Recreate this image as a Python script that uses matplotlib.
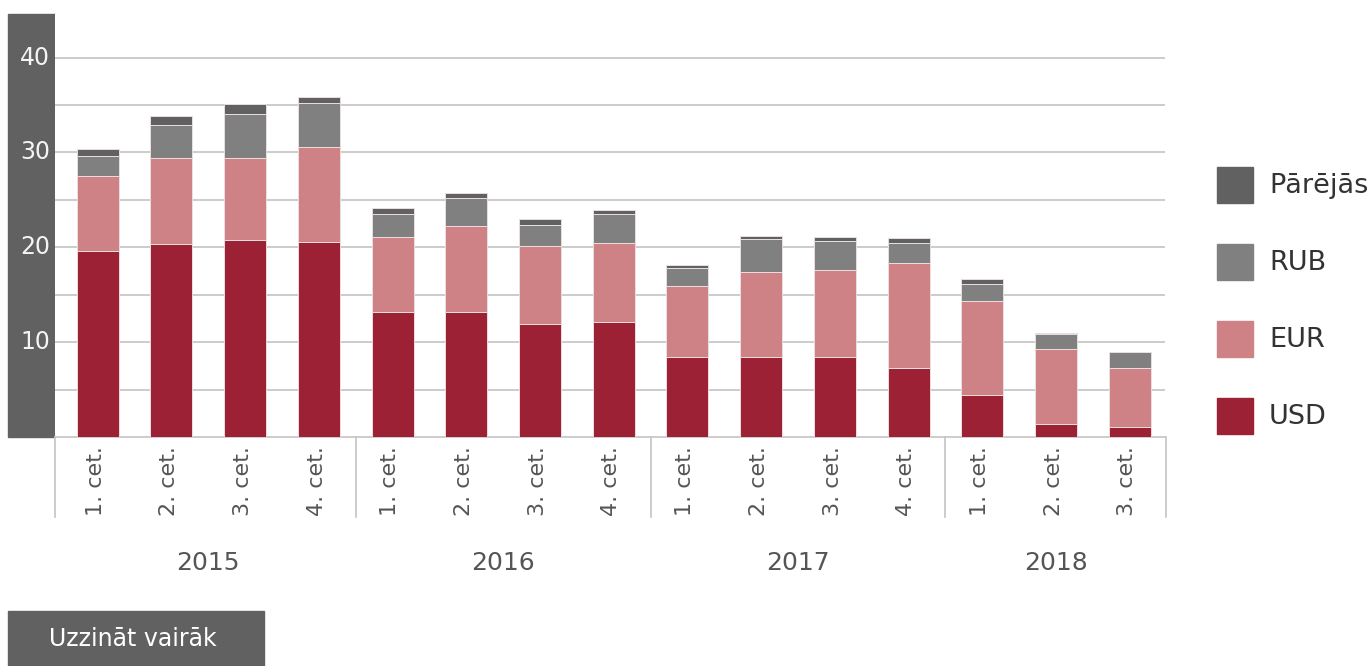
import numpy as np
import matplotlib
matplotlib.use("Agg")
import matplotlib.pyplot as plt
from matplotlib.patches import Rectangle

# data
years = ["2015", "2016", "2017", "2018"]
quarters_per_year = [4, 4, 4, 3]
quarter_labels = ["1. cet.", "2. cet.", "3. cet.", "4. cet.",
                  "1. cet.", "2. cet.", "3. cet.", "4. cet.",
                  "1. cet.", "2. cet.", "3. cet.", "4. cet.",
                  "1. cet.", "2. cet.", "3. cet."]
usd = [19.6, 20.4, 20.8, 20.6, 13.2, 13.2, 11.9, 12.1, 8.4, 8.4, 8.4, 7.3, 4.4, 1.4, 1.1]
eur = [7.9, 9.0, 8.6, 10.0, 7.85, 9.0, 8.2, 8.4, 7.5, 9.0, 9.2, 11.05, 9.95, 7.85, 6.2]
rub = [2.1, 3.5, 4.7, 4.6, 2.45, 2.95, 2.3, 3.0, 1.95, 3.5, 3.1, 2.1, 1.75, 1.6, 1.65]
other = [0.75, 0.9, 1.0, 0.7, 0.6, 0.55, 0.6, 0.4, 0.3, 0.3, 0.35, 0.55, 0.55, 0.1, 0.06]
y_labels = [10, 20, 30, 40]

series = [("USD", usd, "#9c2135"), ("EUR", eur, "#cf8285"),
          ("RUB", rub, "#808080"), ("Pārējās", other, "#616161")]

W, H = 1370, 666
TXT = "#555555"
DARK = "#616161"

fig = plt.figure(figsize=(W / 100, H / 100), dpi=100)
plt.rcParams["font.family"] = ["DejaVu Sans"]


def fx(px):
    return px / W


def fy(py):
    return 1 - py / H


# plot area: x 55..1165, y 14..437
ax = fig.add_axes([fx(55), fy(437), fx(1165) - fx(55), fy(14) - fy(437)])
x = np.arange(len(usd))
XLIM = (-0.58, len(usd) - 1 + 0.48)
bottom = np.zeros(len(usd))
for name, vals, col in series:
    ax.bar(x, vals, bottom=bottom, width=0.57, color=col,
           edgecolor="#eadede", linewidth=0.7, zorder=3, label=name)
    bottom += np.array(vals)

ax.set_xlim(*XLIM)
ax.set_ylim(0, 44.6)
ax.set_yticks(np.arange(5, 45, 5))
ax.yaxis.grid(True, color="#c4c4c4", linewidth=1.2, zorder=0)
ax.set_xticks([])
ax.tick_params(axis="y", length=0, labelleft=False)
for s in ["top", "right", "left"]:
    ax.spines[s].set_visible(False)
ax.spines["bottom"].set_color("#c4c4c4")
ax.spines["bottom"].set_linewidth(1.2)

# dark y-axis strip with white labels
fig.patches.append(Rectangle((fx(8), fy(437)), fx(55) - fx(8), fy(14) - fy(437),
                             transform=fig.transFigure, color=DARK, zorder=-1))
for v in y_labels:
    ypx = 437 - v * (437 - 14) / 44.6
    fig.text(fx(50), fy(ypx), str(v), ha="right", va="center",
             color="#f4f4f4", fontsize=17, zorder=5)

# category axis below (clipped quarter labels + group separators)
cax = fig.add_axes([fx(55), fy(519), fx(1167) - fx(55), fy(437) - fy(519)])
cax.set_xlim(XLIM[0], XLIM[1] + (1167 - 1165) / 73.7)
cax.set_ylim(82, 0)
cax.axis("off")
for i, lab in enumerate(quarter_labels):
    cax.text(i - 0.03, 9, lab, rotation=90, ha="center", va="top", fontsize=16,
             color=TXT, clip_on=True)
edges = np.concatenate([[0], np.cumsum(quarters_per_year)])
for e in edges:
    xe = e - 0.5
    if e == 0:
        xe = XLIM[0]
    if e == len(usd):
        xe = cax.get_xlim()[1] - 0.01
    cax.plot([xe, xe], [0, 80], color="#c4c4c4", linewidth=1.2, clip_on=False)

# year labels
for yr, a, b in zip(years, edges[:-1], edges[1:]):
    center = (a + b - 1) / 2
    px = 97.5 + center * 73.7
    fig.text(fx(px), fy(563), yr, ha="center", va="center", fontsize=18, color=TXT)

# legend
leg_items = list(reversed(series))
for k, (name, vals, col) in enumerate(leg_items):
    top = 167 + k * 77
    fig.patches.append(Rectangle((fx(1217), fy(top + 36)), fx(36), 36 / H,
                                 transform=fig.transFigure, color=col))
    fig.text(fx(1269), fy(top + 19), name, ha="left", va="center",
             fontsize=19.5, color="#333333")

# button
fig.patches.append(Rectangle((fx(8), fy(666)), fx(256), 55 / H,
                             transform=fig.transFigure, color=DARK))
fig.text(fx(133), fy(639), "Uzzināt vairāk", ha="center", va="center",
         fontsize=17, color="white")

fig.savefig("out.png", dpi=100)
